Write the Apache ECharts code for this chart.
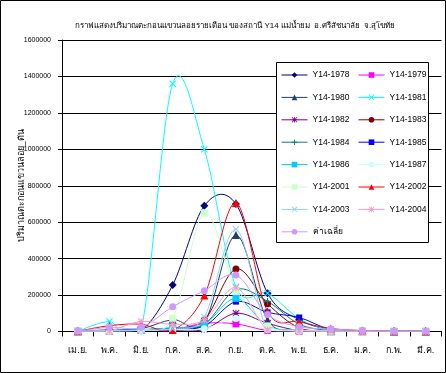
<!DOCTYPE html>
<html><head><meta charset="utf-8">
<script src="https://cdn.jsdelivr.net/npm/echarts@6/dist/echarts.min.js"></script>
<style>html,body{margin:0;padding:0;background:#fff}#c{width:446px;height:373px}</style>
</head><body><div id="c"></div>
<script>
const months = ['เม.ย.','พ.ค.','มิ.ย.','ก.ค.','ส.ค.','ก.ย.','ต.ค.','พ.ย.','ธ.ค.','ม.ค.','ก.พ.','มี.ค.'];
const yTicks = [0,200000,400000,600000,800000,1000000,1200000,1400000,1600000];
const y1978 = [2000, 8000, 5000, 255000, 690000, 700000, 210000, 65000, 10000, 3000, 1000, 1000];
const y1979 = [1000, 2000, 8000, 10000, 45000, 42000, 5000, 2000, 1000, 500, 500, 500];
const y1980 = [1000, 5000, 15000, 65000, 50000, 530000, 63000, 8000, 2000, 1000, 500, 500];
const y1981 = [2000, 55000, 15000, 1360000, 1000000, 245000, 210000, 70000, 8000, 3000, 1000, 1000];
const y1982 = [500, 2000, 5000, 5000, 12000, 100000, 45000, 5000, 2000, 500, 500, 500];
const y1983 = [1000, 5000, 10000, 15000, 63000, 343000, 152000, 20000, 5000, 1000, 500, 500];
const y1984 = [1000, 5000, 10000, 20000, 40000, 230000, 165000, 40000, 5000, 1000, 500, 500];
const y1985 = [1000, 5000, 10000, 15000, 30000, 164000, 105000, 77000, 10000, 2000, 1000, 500];
const y1986 = [1000, 5000, 10000, 20000, 40000, 182000, 30000, 8000, 3000, 1000, 500, 500];
const y1987 = [1000, 3000, 5000, 10000, 15000, 72000, 10000, 3000, 1000, 500, 500, 500];
const y2001 = [1000, 2000, 10000, 72000, 650000, 228000, 30000, 8000, 3000, 1000, 500, 500];
const y2002 = [1000, 32000, 40000, 8000, 197000, 705000, 110000, 54000, 17000, 5000, 1000, 1000];
const y2003 = [1000, 3000, 8000, 15000, 80000, 561000, 5000, 3000, 1000, 500, 500, 500];
const y2004 = [1000, 5000, 55000, 40000, 63000, 240000, 8000, 3000, 1000, 500, 500, 500];
const yAvg  = [1000, 23000, 23000, 136000, 224000, 310000, 93000, 26000, 14000, 5000, 2000, 1000];

const X = 'path://M1,0L5,4L9,0L10,1L6,5L10,9L9,10L5,6L1,10L0,9L4,5L0,1Z';
const PLUS = 'path://M4.2,0h1.6v4.2h4.2v1.6h-4.2v4.2h-1.6v-4.2h-4.2v-1.6h4.2z';
const STAR = 'path://M4.3,0h1.4v10h-1.4zM0,4.3h10v1.4h-10zM1,0L10,9L9,10L0,1zM9,0L10,1L1,10L0,9z';
const DASH = 'path://M0,0h10v3h-10z';

const defs = [
  ['Y14-1978', y1978, '#000080', 'diamond', 8],
  ['Y14-1979', y1979, '#FF00FF', 'rect', 7],
  ['Y14-1980', y1980, '#1F3F6F', 'triangle', 8],
  ['Y14-1981', y1981, '#00FFFF', X, 7],
  ['Y14-1982', y1982, '#800080', STAR, 7],
  ['Y14-1983', y1983, '#800000', 'circle', 7],
  ['Y14-1984', y1984, '#008080', PLUS, 7],
  ['Y14-1985', y1985, '#0000FF', DASH, 6],
  ['Y14-1986', y1986, '#00CCFF', DASH, 7],
  ['Y14-1987', y1987, '#CCFFFF', 'circle', 7],
  ['Y14-2001', y2001, '#CCFFCC', 'rect', 7],
  ['Y14-2002', y2002, '#FF0000', 'triangle', 8],
  ['Y14-2003', y2003, '#99CCFF', X, 7],
  ['Y14-2004', y2004, '#FF99CC', STAR, 7],
  ['ค่าเฉลี่ย', yAvg, '#CC99FF', 'circle', 7]
];

const FONT = '"Liberation Sans", "DejaVu Sans", "Noto Sans", sans-serif';

// Excel-style smoothed line drawn through the data points via the axis scales
function smoothRender(arr, color) {
  return function (params, api) {
    if (params.dataIndex !== 0) return null;
    const p = arr.map((v, i) => api.coord([i, v]));
    const n = p.length;
    let d = 'M' + p[0][0] + ',' + p[0][1];
    for (let i = 0; i < n - 1; i++) {
      const p0 = p[Math.max(i - 1, 0)], p1 = p[i], p2 = p[i + 1], p3 = p[Math.min(i + 2, n - 1)];
      const c1x = p1[0] + (p2[0] - p0[0]) / 6, c1y = p1[1] + (p2[1] - p0[1]) / 6;
      const c2x = p2[0] - (p3[0] - p1[0]) / 6, c2y = p2[1] - (p3[1] - p1[1]) / 6;
      d += 'C' + c1x + ',' + c1y + ' ' + c2x + ',' + c2y + ' ' + p2[0] + ',' + p2[1];
    }
    return {type: 'path', shape: {pathData: d}, style: {stroke: color, fill: null, lineWidth: 1}};
  };
}

const series = [];
defs.forEach((d, k) => {
  series.push({
    type: 'custom', renderItem: smoothRender(d[1], d[2]), data: d[1].map((v, i) => [i, v]),
    encode: {x: 0, y: 1}, clip: true, z: 2, silent: true, animation: false
  });
});
defs.forEach((d, k) => {
  series.push({
    name: d[0], type: 'line', data: d[1], smooth: false,
    symbol: d[3], symbolSize: d[4], showSymbol: true,
    lineStyle: {color: d[2], width: 1, opacity: 0},
    itemStyle: {color: d[2], borderWidth: 0},
    emphasis: {disabled: true}, animation: false, clip: false, z: 3
  });
});
const legItem = d => ({name: d[0], lineStyle: {color: d[2], width: 1, opacity: 1}, itemStyle: {color: d[2]}});
const col1 = defs.filter((d, i) => i % 2 === 0).map(legItem);
const col2 = defs.filter((d, i) => i % 2 === 1).map(legItem);
const legendBase = {orient: 'vertical', top: 69, padding: 0, itemWidth: 26, itemHeight: 7, itemGap: 10.4, z: 6,
  textStyle: {fontFamily: FONT, fontSize: 8.5, color: '#000', lineHeight: 12}, selectedMode: false};

const chart = echarts.init(document.getElementById('c'), null, {renderer: 'canvas'});
chart.setOption({
  animation: false,
  backgroundColor: '#fff',
  title: {text: 'กราฟแสดงปริมาณตะกอนแขวนลอยรายเดือน ของสถานี Y14 แม่น้ำยม  อ.ศรีสัชนาลัย  จ.สุโขทัย',
    left: 70, top: 17, textStyle: {fontFamily: FONT, fontSize: 8, fontWeight: 'normal', color: '#000'}},
  grid: {left: 62, right: 4.5, top: 40, bottom: 41.5, containLabel: false, outerBoundsMode: 'none'},
  legend: [Object.assign({left: 281, data: col1}, legendBase), Object.assign({left: 358, data: col2}, legendBase)],
  xAxis: {type: 'category', data: months, boundaryGap: true,
    axisLine: {lineStyle: {color: '#000', width: 1}},
    axisTick: {show: true, length: 5, lineStyle: {color: '#000'}},
    axisLabel: {margin: 15, fontFamily: FONT, fontSize: 9, color: '#000'}},
  yAxis: {type: 'value', min: yTicks[0], max: yTicks[yTicks.length - 1], interval: yTicks[1] - yTicks[0],
    name: 'ปริมาณตะกอนแขวนลอย_ตัน', nameLocation: 'middle', nameGap: 36, nameRotate: 90, nameMoveOverlap: false,
    nameTextStyle: {fontFamily: FONT, fontSize: 9, color: '#000'},
    axisLine: {show: true, lineStyle: {color: '#000'}},
    axisTick: {show: true, length: 4, lineStyle: {color: '#000'}},
    axisLabel: {margin: 11, fontFamily: FONT, fontSize: 7, color: '#000', formatter: v => String(v)},
    splitLine: {show: true, lineStyle: {color: '#000', width: 1}}},
  graphic: [
    {type: 'rect', shape: {x: 0.5, y: 0.5, width: 445, height: 372}, style: {fill: 'none', stroke: '#000', lineWidth: 1}, silent: true, z: 100},
    {type: 'rect', shape: {x: 276.5, y: 62.5, width: 152, height: 180}, style: {fill: '#fff', stroke: '#000', lineWidth: 1}, silent: true, z: 4}
  ],
  series: series
});
</script></body></html>
